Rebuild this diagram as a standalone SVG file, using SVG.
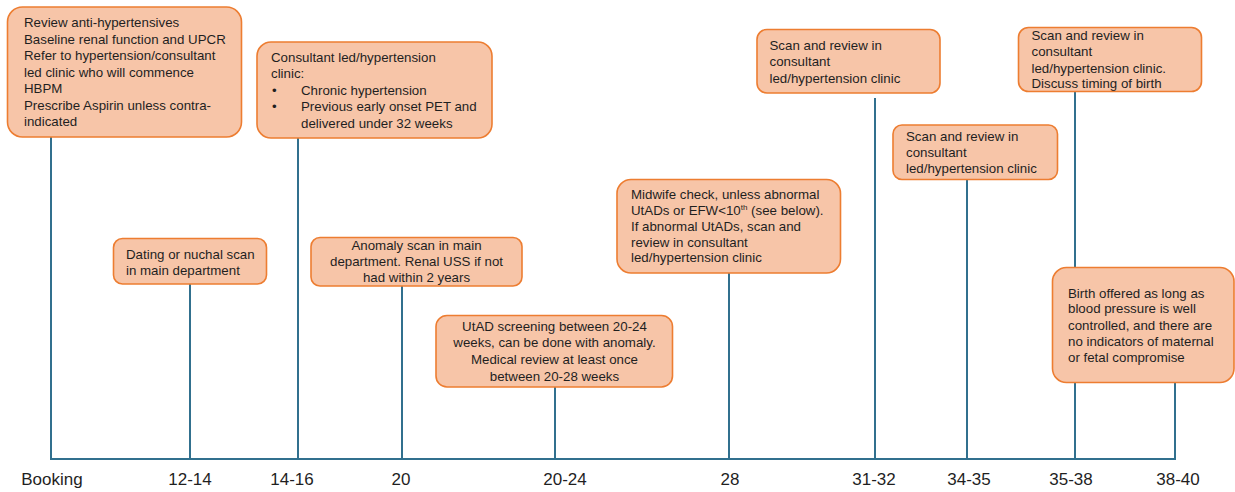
<svg xmlns="http://www.w3.org/2000/svg" width="1235" height="492" viewBox="0 0 1235 492">
<style>
.box{fill:#F7C5A8;stroke:#ED7D31;stroke-width:1.6}
.t{font-family:"Liberation Sans",Arial,sans-serif;font-size:13.3px;fill:#1f1f1f}
.c{text-anchor:middle}
.lbl{font-family:"Liberation Sans",Arial,sans-serif;font-size:17px;fill:#1f1f1f;text-anchor:middle}
.ln{stroke:#31708E;stroke-width:2;fill:none}
</style>
<rect width="1235" height="492" fill="#ffffff"/>
<g id="connectors">
<path class="ln" d="M51,137 V459 H1175 V382"/>
<line class="ln" x1="190" y1="284" x2="190" y2="459"/>
<line class="ln" x1="298" y1="138" x2="298" y2="459"/>
<line class="ln" x1="402" y1="286" x2="402" y2="459"/>
<line class="ln" x1="555" y1="387" x2="555" y2="459"/>
<line class="ln" x1="729" y1="273" x2="729" y2="459"/>
<line class="ln" x1="875" y1="98" x2="875" y2="459"/>
<line class="ln" x1="967" y1="179" x2="967" y2="459"/>
<line class="ln" x1="1075" y1="92" x2="1075" y2="459"/>
</g>
<g id="n-booking">
<rect class="box" x="7.5" y="7" width="234" height="130" rx="15"/>
<text class="t" x="24" y="27">Review anti-hypertensives</text>
<text class="t" x="24" y="43.5">Baseline renal function and UPCR</text>
<text class="t" x="24" y="60">Refer to hypertension/consultant</text>
<text class="t" x="24" y="76.5">led clinic who will commence</text>
<text class="t" x="24" y="93">HBPM</text>
<text class="t" x="24" y="110">Prescribe Aspirin unless contra-</text>
<text class="t" x="24" y="125.5">indicated</text>
</g>
<g id="n-consultant">
<rect class="box" x="257" y="42" width="235" height="96" rx="14"/>
<text class="t" x="271" y="61.5">Consultant led/hypertension</text>
<text class="t" x="271" y="78">clinic:</text>
<text class="t" x="272" y="95">•</text>
<text class="t" x="301" y="95">Chronic hypertension</text>
<text class="t" x="272" y="111">•</text>
<text class="t" x="301" y="111">Previous early onset PET and</text>
<text class="t" x="301" y="127.5">delivered under 32 weeks</text>
</g>
<g id="n-dating">
<rect class="box" x="113.5" y="238.5" width="153" height="45.5" rx="9"/>
<text class="t" x="126" y="258.5">Dating or nuchal scan</text>
<text class="t" x="126" y="274.5">in main department</text>
</g>
<g id="n-anomaly">
<rect class="box" x="311" y="237.5" width="211" height="48.5" rx="9"/>
<text class="t c" x="416.5" y="249.5">Anomaly scan in main</text>
<text class="t c" x="416.5" y="265.5">department. Renal USS if not</text>
<text class="t c" x="416.5" y="281.5">had within 2 years</text>
</g>
<g id="n-utad">
<rect class="box" x="436" y="315.5" width="236.5" height="71.5" rx="11"/>
<text class="t c" x="554.5" y="330.5">UtAD screening between 20-24</text>
<text class="t c" x="554.5" y="347">weeks, can be done with anomaly.</text>
<text class="t c" x="554.5" y="364">Medical review at least once</text>
<text class="t c" x="554.5" y="380.5">between 20-28 weeks</text>
</g>
<g id="n-midwife">
<rect class="box" x="617" y="179.5" width="223.5" height="93.5" rx="14"/>
<text class="t" x="631" y="198.5">Midwife check, unless abnormal</text>
<text class="t" x="631" y="215">UtADs or EFW&lt;10<tspan font-size="8" dy="-5">th</tspan><tspan dy="5"> (see below).</tspan></text>
<text class="t" x="631" y="231">If abnormal UtADs, scan and</text>
<text class="t" x="631" y="246.5">review in consultant</text>
<text class="t" x="631" y="262">led/hypertension clinic</text>
</g>
<g id="n-scan3132">
<rect class="box" x="757" y="29.5" width="183" height="63.5" rx="10"/>
<text class="t" x="769.5" y="49.5">Scan and review in</text>
<text class="t" x="769.5" y="66">consultant</text>
<text class="t" x="769.5" y="82.5">led/hypertension clinic</text>
</g>
<g id="n-scan3435">
<rect class="box" x="893" y="125" width="164.5" height="54.5" rx="9"/>
<text class="t" x="906" y="141">Scan and review in</text>
<text class="t" x="906" y="157">consultant</text>
<text class="t" x="906" y="173">led/hypertension clinic</text>
</g>
<g id="n-scan3538">
<rect class="box" x="1018.5" y="27.5" width="183" height="64" rx="10"/>
<text class="t" x="1031.5" y="39.5">Scan and review in</text>
<text class="t" x="1031.5" y="56">consultant</text>
<text class="t" x="1031.5" y="72.5">led/hypertension clinic.</text>
<text class="t" x="1031.5" y="88">Discuss timing of birth</text>
</g>
<g id="n-birth">
<rect class="box" x="1052.5" y="267.5" width="181.5" height="115" rx="14"/>
<text class="t" x="1068" y="298">Birth offered as long as</text>
<text class="t" x="1068" y="313">blood pressure is well</text>
<text class="t" x="1068" y="329.5">controlled, and there are</text>
<text class="t" x="1068" y="345.5">no indicators of maternal</text>
<text class="t" x="1068" y="362">or fetal compromise</text>
</g>
<g id="labels">
<text class="lbl" x="52" y="485">Booking</text>
<text class="lbl" x="190" y="485">12-14</text>
<text class="lbl" x="292" y="485">14-16</text>
<text class="lbl" x="401" y="485">20</text>
<text class="lbl" x="565" y="485">20-24</text>
<text class="lbl" x="730" y="485">28</text>
<text class="lbl" x="874" y="485">31-32</text>
<text class="lbl" x="969" y="485">34-35</text>
<text class="lbl" x="1071" y="485">35-38</text>
<text class="lbl" x="1178" y="485">38-40</text>
</g>
</svg>
